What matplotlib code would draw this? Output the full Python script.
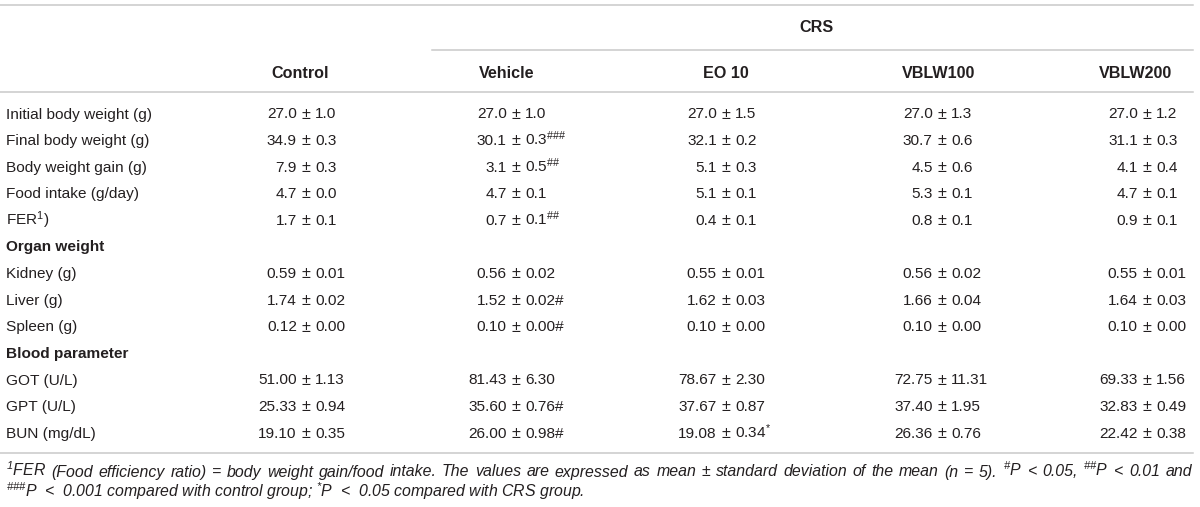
import matplotlib.pyplot as plt

plt.rcParams['font.family'] = ['Liberation Sans', 'DejaVu Sans']
plt.rcParams['mathtext.fontset'] = 'custom'
plt.rcParams['mathtext.rm'] = 'Liberation Sans'
plt.rcParams['mathtext.it'] = 'Liberation Sans:italic'
plt.rcParams['mathtext.default'] = 'regular'

# 表格内容
groups = ['Control', 'Vehicle', 'EO 10', 'VBLW100', 'VBLW200']
span_label = 'CRS'

row_labels = ['Initial body weight (g)', 'Final body weight (g)', 'Body weight gain (g)',
              'Food intake (g/day)', 'FER$^{1}$)', 'Organ weight', 'Kidney (g)', 'Liver (g)',
              'Spleen (g)', 'Blood parameter', 'GOT (U/L)', 'GPT (U/L)', 'BUN (mg/dL)']
section_rows = ['Organ weight', 'Blood parameter']

control = ['27.0 ± 1.0', '34.9 ± 0.3', '7.9 ± 0.3', '4.7 ± 0.0', '1.7 ± 0.1', '',
           '0.59 ± 0.01', '1.74 ± 0.02', '0.12 ± 0.00', '',
           '51.00 ± 1.13', '25.33 ± 0.94', '19.10 ± 0.35']
vehicle = ['27.0 ± 1.0', r'30.1 ± 0.3$^{\#\#\#}$', r'3.1 ± 0.5$^{\#\#}$', '4.7 ± 0.1',
           r'0.7 ± 0.1$^{\#\#}$', '',
           '0.56 ± 0.02', '1.52 ± 0.02#', '0.10 ± 0.00#', '',
           '81.43 ± 6.30', '35.60 ± 0.76#', '26.00 ± 0.98#']
eo10 = ['27.0 ± 1.5', '32.1 ± 0.2', '5.1 ± 0.3', '5.1 ± 0.1', '0.4 ± 0.1', '',
        '0.55 ± 0.01', '1.62 ± 0.03', '0.10 ± 0.00', '',
        '78.67 ± 2.30', '37.67 ± 0.87', r'19.08 ± 0.34$^{*}$']
vblw100 = ['27.0 ± 1.3', '30.7 ± 0.6', '4.5 ± 0.6', '5.3 ± 0.1', '0.8 ± 0.1', '',
           '0.56 ± 0.02', '1.66 ± 0.04', '0.10 ± 0.00', '',
           '72.75 ± 11.31', '37.40 ± 1.95', '26.36 ± 0.76']
vblw200 = ['27.0 ± 1.2', '31.1 ± 0.3', '4.1 ± 0.4', '4.7 ± 0.1', '0.9 ± 0.1', '',
           '0.55 ± 0.01', '1.64 ± 0.03', '0.10 ± 0.00', '',
           '69.33 ± 1.56', '32.83 ± 0.49', '22.42 ± 0.38']

footnote_1 = (r'$^{1}$FER (Food efficiency ratio) = body weight gain/food intake. The values are '
              r'expressed as mean ± standard deviation of the mean (n = 5). $^{\#}$P < 0.05, '
              r'$^{\#\#}$P < 0.01 and')
footnote_2 = r'$^{\#\#\#}$P  <  0.001 compared with control group; $^{*}$P  <  0.05 compared with CRS group.'

# 布局（像素坐标）
W, H = 1200, 507
header_x = [300, 507, 726, 939, 1136]
pm_x = [306, 516, 726, 942, 1147]
row_y0, row_dy = 113, 26.6
fs = 11.1
fs_head = 11.6
fs_note = 11.4
pm_gap = 4.8
txt_color = '#231f20'
rule_color = '#c9c9c9'

fig = plt.figure(figsize=(W / 100, H / 100), dpi=100)
ax = fig.add_axes([0, 0, 1, 1])
ax.set_xlim(0, W)
ax.set_ylim(H, 0)
ax.axis('off')
renderer = fig.canvas.get_renderer()


def text_width(s, **kw):
    t = ax.text(0, 0, s, **kw)
    w = t.get_window_extent(renderer).width
    t.remove()
    return w


# 横线
ax.plot([0, 1193], [5, 5], color=rule_color, lw=1.1)
ax.plot([432, 1193], [50, 50], color=rule_color, lw=1.1)
ax.plot([0, 1193], [92, 92], color=rule_color, lw=1.1)
ax.plot([0, 1193], [453, 453], color=rule_color, lw=1.1)

# 表头
ax.text(816, 32, span_label, ha='center', va='baseline', fontsize=fs_head,
        fontweight='bold', color=txt_color)
for x, g in zip(header_x, groups):
    ax.text(x, 78, g, ha='center', va='baseline', fontsize=fs_head,
            fontweight='bold', color=txt_color)

# 行标签
for i, lab in enumerate(row_labels):
    y = row_y0 + i * row_dy + 5.5
    bold = 'bold' if lab in section_rows else 'normal'
    ax.text(6, y, lab, ha='left', va='baseline', fontsize=fs,
            fontweight=bold, color=txt_color)

# 数值，按 ± 对齐
fs_pm = fs * 1.05
pm_half = text_width('±', fontsize=fs_pm) / 2
columns = [control, vehicle, eo10, vblw100, vblw200]
for xpm, col in zip(pm_x, columns):
    for i, val in enumerate(col):
        if not val:
            continue
        left, right = val.split(' ± ')
        y = row_y0 + i * row_dy + 5.5
        ax.text(xpm - pm_half - pm_gap, y, left, ha='right', va='baseline',
                fontsize=fs, color=txt_color)
        ax.text(xpm - 0.5, y + 0.2, '±', ha='center', va='baseline',
                fontsize=fs_pm, color=txt_color)
        ax.text(xpm + pm_half + pm_gap, y, right, ha='left', va='baseline',
                fontsize=fs, color=txt_color)

# 脚注（第一行两端对齐）
note_kw = dict(fontsize=fs_note, fontstyle='italic', color=txt_color, va='baseline')
words = footnote_1.split(' ')
widths = [text_width(w, **note_kw) for w in words]
x_left, x_right = 6, 1192
gap = (x_right - x_left - sum(widths)) / (len(words) - 1)
x = x_left
for w, wd in zip(words, widths):
    ax.text(x, 476.5, w, ha='left', **note_kw)
    x += wd + gap
ax.text(x_left, 497.5, footnote_2, ha='left', **note_kw)

fig.savefig('out.png', dpi=100, facecolor='white')
plt.close(fig)
